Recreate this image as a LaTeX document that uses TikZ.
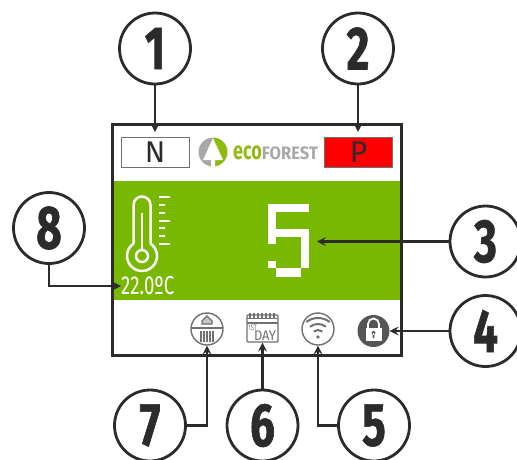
\documentclass[tikz,border=0pt]{standalone}
\usepackage{fontspec}
\setmainfont{Fira Sans}
\newfontfamily\calloutfont[FakeStretch=.72]{Fira Sans}
\newfontfamily\heavyfont[FakeStretch=.72,FakeBold=1]{Fira Sans}
\newfontfamily\logofont[FakeStretch=.92]{Fira Sans}
\usetikzlibrary{arrows,positioning}
\definecolor{panelgreen}{HTML}{78B800}
\definecolor{linedark}{HTML}{2B2B2B}
\definecolor{icongrey}{HTML}{707070}
\definecolor{lockgrey}{HTML}{555555}
\definecolor{logogrey}{HTML}{A8A8A8}
\definecolor{logogreen}{HTML}{8DBB12}
\tikzset{
      callout/.style = {circle, draw=linedark, line width=2.8pt, minimum size=71pt, inner sep=0pt, text=linedark,
         font=\heavyfont\bfseries\fontsize{61}{61}\selectfont},
      leader/.style = {draw=linedark, line width=2.8pt, -{stealth}},
      modebox/.style = {rectangle, minimum width=68pt, minimum height=30pt, inner sep=0pt, text=linedark,
         font=\fontsize{30}{30}\selectfont},
      iconring/.style = {circle, draw=icongrey, line width=1.4pt, minimum size=32pt, inner sep=0pt},
      iconline/.style = {draw=icongrey, line width=1.1pt},
      wifiline/.style = {draw=icongrey, line width=2pt},
      thermo/.style = {draw=white, line width=2.5pt},
      digit/.style = {fill=white, draw=none},
}
\begin{document}
\begin{tikzpicture}[x=1pt,y=-1pt]
        \useasboundingbox (0,0) rectangle (517,459);
        % panel
        \fill[panelgreen] (113,181) rectangle (400,300);
        \draw[linedark, line width=3pt] (112,124) rectangle (401,355);
        \node [modebox, draw=icongrey, line width=.8pt] (nbox) at (155,152) {N};
        \node [modebox, fill=red, draw=icongrey, line width=.8pt] (pbox) at (358.5,152) {P};
        % logo
        \fill[logogrey] (213,137.5) arc[start angle=-90,end angle=-270,radius=14.5] -- cycle;
        \fill[logogreen] (213,137.5) arc[start angle=-90,end angle=90,radius=14.5] -- cycle;
        \fill[white] (213,138) -- (203,160) -- (211,160) -- (211,167) -- (215,167) -- (215,160) -- (223,160) -- cycle;
        \node [anchor=west, inner sep=0pt, font=\calloutfont\bfseries\fontsize{25}{25}\selectfont] (logotext) at (233,153)
           {\textcolor{logogreen}{eco}\textcolor{logogrey}{\logofont\bfseries\fontsize{18}{18}\selectfont FOREST}};
        % thermometer
        \draw[thermo] (133.5,243.6) -- (133.5,205) arc[start angle=180,end angle=360,radius=8.5] -- (150.5,243.6);
        \draw[thermo] (150.5,243.6) arc[start angle=-55.5,end angle=235.5,radius=15];
        \draw[thermo] (142,256) circle (6);
        \draw[thermo] (142,213) -- (142,250);
        \foreach \ty/\tx in {197/170,205/165,213/165,221/170,228/165,236/165,244/170}
            \draw[white, line width=2.4pt] (159,\ty) -- (\tx,\ty);
        \node [anchor=west, inner sep=0pt, text=white, font=\calloutfont\fontsize{26}{26}\selectfont] (temp) at (121,286) {22.0ºC};
        % big digit
        \fill[digit] (268.3,204.3) rectangle (309,212.3);
        \fill[digit] (268.3,204.3) rectangle (276,244);
        \fill[digit] (268.3,228.7) rectangle (301,236.7);
        \fill[digit] (301,228.7) rectangle (309,268.3);
        \fill[digit] (276,268.3) rectangle (301,276.7);
        \fill[digit] (268.3,260.7) rectangle (276,268.3);
        \coordinate (digitend) at (317,241.5);
        % status icons
        \node [iconring] (heat) at (207,329) {};
        \draw[iconline] (192,328) -- (222,328);
        \draw[iconline, fill=icongrey!40] (207,316) -- (202,321) -- (202,324) -- (212,324) -- (212,321) -- cycle;
        \foreach \hx in {201,204,207,210,213}
            \draw[iconline, line width=1.6pt] (\hx,331) -- (\hx,342);
        \node [rectangle, rounded corners=1pt, draw=icongrey, line width=1.4pt, minimum width=31pt, minimum height=27pt, inner sep=0pt] (cal) at (262.5,328.5) {};
        \draw[iconline] (247,323) -- (278,323);
        \draw[iconline] (247,318.5) -- (278,318.5);
        \foreach \cx in {250,254,258,262,266,270,274}
            \draw[iconline] (\cx,313) -- (\cx,318);
        \node [inner sep=0pt, text=icongrey, font=\calloutfont\fontsize{8}{8}\selectfont] (first) at (252.5,328) {1ST};
        \node [inner sep=0pt, text=icongrey, font=\logofont\fontsize{14}{14}\selectfont] (day) at (265,336) {DAY};
        \node [iconring] (wifi) at (318,329) {};
        \foreach \wr in {7,13,19}
            \draw[wifiline] (318,337) ++(-52:\wr) arc[start angle=-52,end angle=-128,radius=\wr];
        \fill[icongrey] (318,337) circle (1.8);
        \node [circle, fill=lockgrey, minimum size=32pt, inner sep=0pt] (lock) at (373.5,331) {};
        \fill[white] (365.5,328) rectangle (381.5,341);
        \draw[white, line width=1.8pt] (368,328) -- (368,324) arc[start angle=180,end angle=360,radius=5.5] -- (379,328);
        \fill[lockgrey] (373.5,333) circle (2) (372.6,333) rectangle (374.4,338);
        % callouts
        \node [callout] (n1) at (155,48.5) {1};
        \node [callout] (n2) at (358,48.5) {2};
        \node [callout] (n3) at (485.5,241.5) {3};
        \node [callout] (n4) at (485.5,331) {4};
        \node [callout] (n5) at (374,425.5) {5};
        \node [callout] (n6) at (262.5,425.5) {6};
        \node [callout] (n7) at (150,425.5) {7};
        \node [callout] (n8) at (49,228) {8};
        \path[leader] (n1) -- (155,132);
        \path[leader] (n2) -- (358,132);
        \path[leader] (n3) -- (digitend);
        \path[leader] (n4) -- (lock);
        \path[leader] (n5.west) -| (wifi.south);
        \path[leader] (n6) -- (cal.south);
        \path[leader] (n7.east) -| (heat.south);
        \path[leader] (n8.south) |- (temp.west);
\end{tikzpicture}
\end{document}
